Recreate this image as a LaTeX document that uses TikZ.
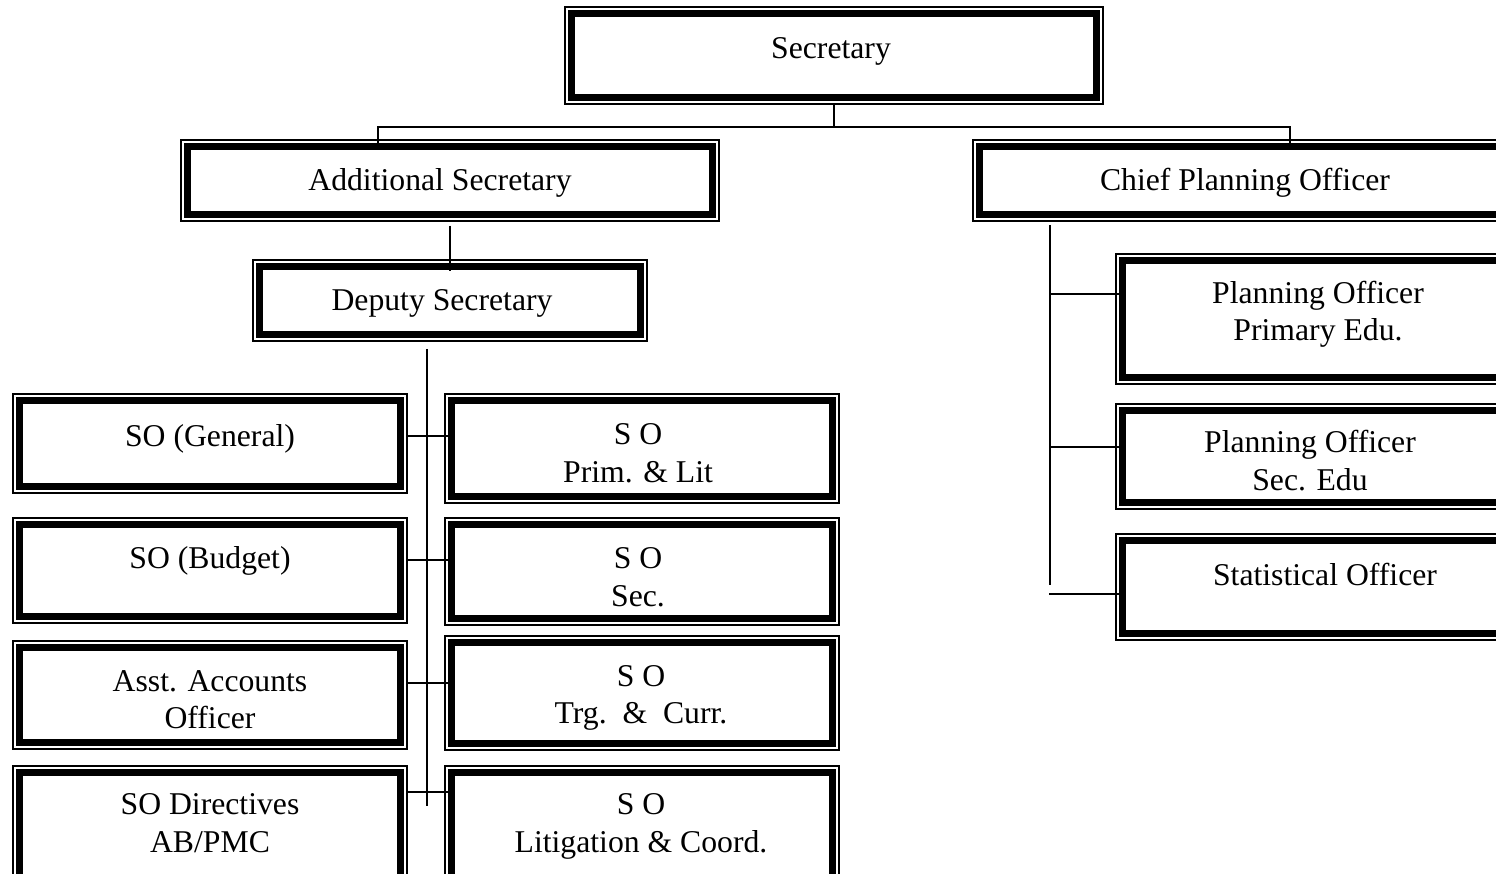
\documentclass[tikz,border=0pt]{standalone}
\usepackage{fontspec}
\setmainfont{Liberation Serif}
\usetikzlibrary{fit}
\tikzset{
  obox/.style={draw, line width=1.2pt, inner sep=0pt, fill=white},
  ibox/.style={draw, line width=7pt},
  conn/.style={draw, line width=1.6pt},
  lbl/.style={anchor=base, inner sep=0pt, font=\fontsize{31.7}{37.5}\selectfont}
}
\newcommand{\dbox}[5]{%
  \node[obox, fit={(#2,#3) (#4,#5)}] (#1) {};
  \draw[ibox] ([xshift=6.8pt,yshift=-6.8pt]#1.north west) rectangle ([xshift=-6.8pt,yshift=6.8pt]#1.south east);}
\newcommand{\two}[2]{\begin{tabular}[t]{@{}c@{}}#1\\#2\end{tabular}}
\begin{document}
\begin{tikzpicture}[x=1pt,y=-1pt]
\clip (0,0) rectangle (1496,874);
\fill[white] (0,0) rectangle (1496,874);
% boxes
\dbox{sec}{565}{7}{1103}{104}
\dbox{add}{181}{140}{719}{221}
\dbox{cpo}{973}{140}{1520}{221}
\dbox{dep}{253}{260}{647}{341}
\dbox{gen}{13}{394}{407}{493}
\dbox{bud}{13}{518}{407}{623}
\dbox{aao}{13}{641}{407}{749}
\dbox{dir}{13}{766}{407}{890}
\dbox{spl}{445}{394}{839}{503}
\dbox{ssec}{445}{518}{839}{625}
\dbox{strg}{445}{636}{839}{750}
\dbox{slit}{445}{766}{839}{890}
\dbox{pop}{1116}{254}{1520}{384}
\dbox{pos}{1116}{404}{1520}{509}
\dbox{sto}{1116}{534}{1520}{640}
% texts
\node[lbl] (sec-t) at (831,58.5) {Secretary};
\node[lbl] (add-t) at (440,190.5) {Additional Secretary};
\node[lbl] (cpo-t) at (1245,190.5) {Chief Planning Officer};
\node[lbl] (dep-t) at (442,310.5) {Deputy Secretary};
\node[lbl] (gen-t) at (210,446.5) {SO (General)};
\node[lbl] (bud-t) at (210,568.5) {SO (Budget)};
\node[lbl] (aao-t) at (210,691) {\two{Asst. Accounts}{Officer}};
\node[lbl] (dir-t) at (210,814.5) {\two{SO Directives}{AB/PMC}};
\node[lbl] (spl-t) at (638,444.5) {\two{S O}{Prim. \& Lit}};
\node[lbl] (ssec-t) at (638,568.5) {\two{S O}{Sec.}};
\node[lbl] (strg-t) at (641,686) {\two{S O}{Trg.\ \ \&\ \ Curr.}};
\node[lbl] (slit-t) at (641,814.5) {\two{S O}{Litigation \& Coord.}};
\node[lbl] (pop-t) at (1318,303.5) {\two{Planning Officer}{Primary Edu.}};
\node[lbl] (pos-t) at (1310,452.5) {\two{Planning Officer}{Sec. Edu}};
\node[lbl] (sto-t) at (1325,585.5) {Statistical Officer};
% connectors
\coordinate (busL) at (378,127);
\coordinate (busR) at (1290,127);
\draw[conn] (sec.south) -- (sec.south |- busL);
\draw[conn] ([yshift=-10pt]add.north -| busL) -- (busL) -- (busR) -- ([yshift=-10pt]cpo.north -| busR);
\draw[conn] ([yshift=-4pt]add.south) -- ([yshift=-12pt]dep.north);
\coordinate (spT) at (427,349);
\coordinate (spB) at (427,806);
\draw[conn] (spT) -- (spB);
\coordinate (h1) at (0,436);
\coordinate (h2) at (0,560);
\coordinate (h3) at (0,683);
\coordinate (h4) at (0,792);
\draw[conn] (gen.east |- h1) -- ([xshift=5pt]spl.west |- h1);
\draw[conn] (bud.east |- h2) -- ([xshift=5pt]ssec.west |- h2);
\draw[conn] (aao.east |- h3) -- ([xshift=5pt]strg.west |- h3);
\draw[conn] (dir.east |- h4) -- ([xshift=5pt]slit.west |- h4);
\coordinate (rsT) at (1050,225);
\coordinate (rsB) at (1050,585);
\coordinate (r1) at (1050,294);
\coordinate (r2) at (1050,447);
\coordinate (rsC) at (1049,594);
\draw[conn] (rsT) -- (rsB);
\draw[conn] (r1) -- ([xshift=4pt]pop.west |- r1);
\draw[conn] (r2) -- ([xshift=4pt]pos.west |- r2);
\draw[conn] (rsC) -- ([xshift=4pt]sto.west |- rsC);
\end{tikzpicture}
\end{document}
